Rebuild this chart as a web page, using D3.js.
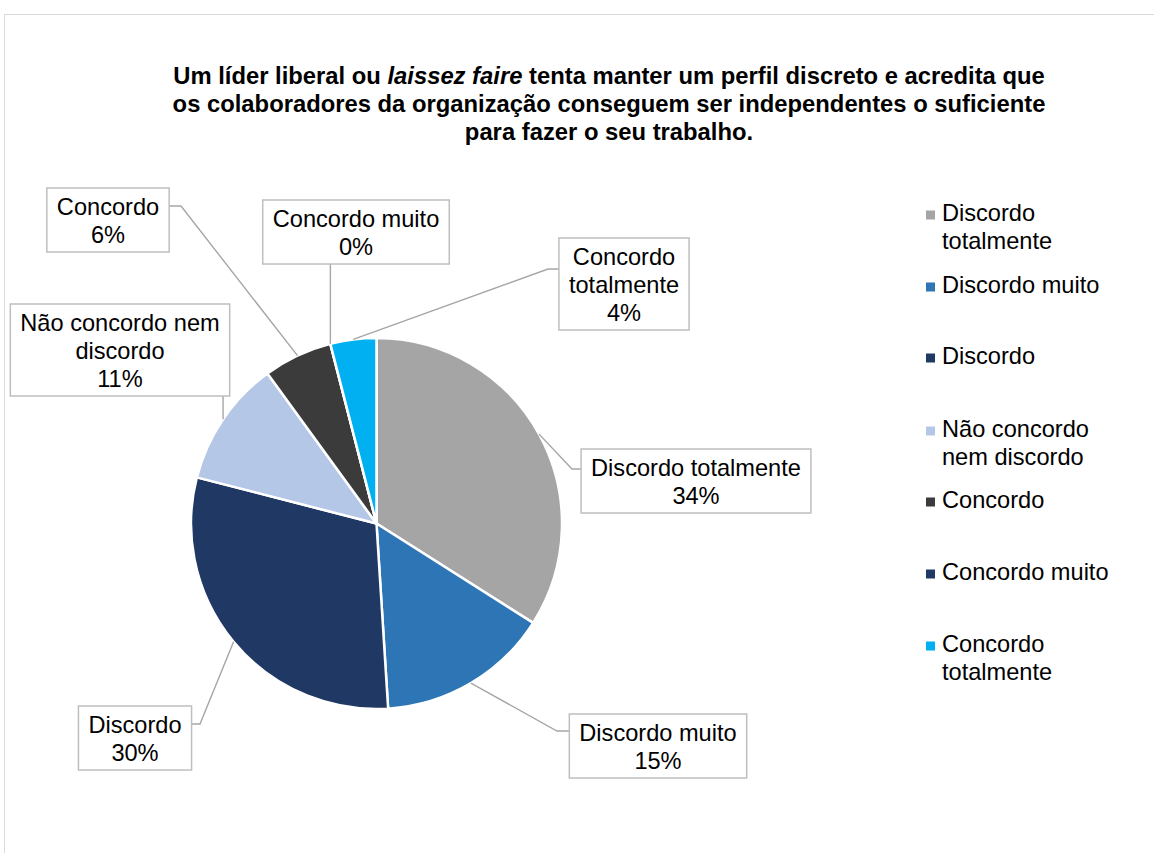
<!DOCTYPE html>
<html><head><meta charset="utf-8">
<script src="https://cdn.jsdelivr.net/npm/d3@7/dist/d3.min.js"></script>
<style>html,body{margin:0;padding:0;background:#fff;}svg{display:block;}</style>
</head><body>
<svg id="chart" width="1154" height="853"></svg>
<script>
// ---- data ----
const categories = ["Discordo totalmente","Discordo muito","Discordo","Não concordo nem discordo","Concordo","Concordo muito","Concordo totalmente"];
const values = [34, 15, 30, 11, 6, 0, 4];
const colors = ["#A5A5A5","#2E75B6","#203864","#B4C7E7","#3B3B3B","#1F3864","#00B0F0"];
const labelLines = [["Discordo totalmente"],["Discordo muito"],["Discordo"],["Não concordo nem","discordo"],["Concordo"],["Concordo muito"],["Concordo","totalmente"]];
const legendLines = [["Discordo","totalmente"],["Discordo muito"],["Discordo"],["Não concordo","nem discordo"],["Concordo"],["Concordo muito"],["Concordo","totalmente"]];

// ---- layout ----
const svg = d3.select("#chart");
const cx = 376.5, cy = 523.5, R = 185.5;
const font = "'Liberation Sans', Arial, sans-serif";
const fs = 23.6, lh = 28;

svg.append("rect").attr("x",4.5).attr("y",14.5).attr("width",1300).attr("height",1000)
  .attr("fill","#fff").attr("stroke","#d9d9d9").attr("stroke-width",1);

// title
const title = svg.append("text").attr("font-family",font).attr("font-weight","bold")
  .attr("font-size",23.8).attr("text-anchor","middle").attr("fill","#000");
const t1 = title.append("tspan").attr("x",609).attr("y",84);
t1.append("tspan").text("Um líder liberal ou ");
t1.append("tspan").attr("font-style","italic").text("laissez faire");
t1.append("tspan").text(" tenta manter um perfil discreto e acredita que");
title.append("tspan").attr("x",609).attr("y",112).text("os colaboradores da organização conseguem ser independentes o suficiente");
title.append("tspan").attr("x",609).attr("y",140).text("para fazer o seu trabalho.");

// pie
const pie = d3.pie().sort(null).value(d => d);
const arcs = pie(values);
const arc = d3.arc().innerRadius(0).outerRadius(R);
const g = svg.append("g").attr("transform",`translate(${cx},${cy})`);
g.selectAll("path").data(arcs).join("path")
  .attr("d",arc).attr("fill",(d,i)=>colors[i])
  .attr("stroke","#fff").attr("stroke-width",2.5).attr("stroke-linejoin","round");

// data labels: box center x and top, plus leader elbow (layout only)
const labelLayout = [
  {cx:696, top:449, side:"left",  elbow:[572,469]},
  {cx:658, top:714, side:"left",  elbow:[557,731]},
  {cx:135, top:706, side:"right", elbow:[200,724]},
  {cx:120, top:304, side:"bottom",elbow:null},
  {cx:108, top:188, side:"right", elbow:[181,206]},
  {cx:356, top:200, side:"bottom",elbow:null},
  {cx:624, top:238, side:"left",  elbow:[548,269]}
];

const measure = svg.append("text").attr("font-family",font).attr("font-size",fs).attr("visibility","hidden");
function textW(s){ measure.text(s); return measure.node().getComputedTextLength(); }

const total = d3.sum(values);
const lblG = svg.append("g");
arcs.forEach((a,i)=>{
  const L = labelLayout[i];
  const lines = labelLines[i].concat([Math.round(values[i]/total*100)+"%"]);
  const tw = d3.max(lines, textW);
  const bw = tw + 20, bh = lines.length*lh + 8;
  const bx = L.cx - bw/2, by = L.top;
  const mid = (a.startAngle + a.endAngle)/2;
  const px = cx + R*Math.sin(mid), py = cy - R*Math.cos(mid);
  let pts;
  if (L.side === "left") pts = [[px,py], L.elbow, [bx, L.elbow[1]]];
  else if (L.side === "right") pts = [[px,py], L.elbow, [bx+bw, L.elbow[1]]];
  else pts = [[px,py],[px, by+bh]];
  lblG.append("path").attr("d", d3.line()(pts)).attr("fill","none")
    .attr("stroke","#A6A6A6").attr("stroke-width",1.4);
  lblG.append("rect").attr("x",bx).attr("y",by).attr("width",bw).attr("height",bh)
    .attr("fill","#fff").attr("stroke","#BFBFBF").attr("stroke-width",1.5);
  const t = lblG.append("text").attr("font-family",font).attr("font-size",fs)
    .attr("text-anchor","middle").attr("fill","#000");
  lines.forEach((s,k)=>{
    t.append("tspan").attr("x",L.cx).attr("y",by + 27 + k*lh).text(s);
  });
});

// legend
const legendBaselines = [221, 293, 364, 437, 508, 580, 652];
const lg = svg.append("g");
categories.forEach((c,i)=>{
  const b = legendBaselines[i];
  lg.append("rect").attr("x",926).attr("y",b-10.5).attr("width",9).attr("height",9).attr("fill",colors[i]);
  const t = lg.append("text").attr("font-family",font).attr("font-size",fs).attr("fill","#000");
  legendLines[i].forEach((s,k)=>{
    t.append("tspan").attr("x",942).attr("y",b + k*lh).text(s);
  });
});
measure.remove();
</script>
</body></html>
